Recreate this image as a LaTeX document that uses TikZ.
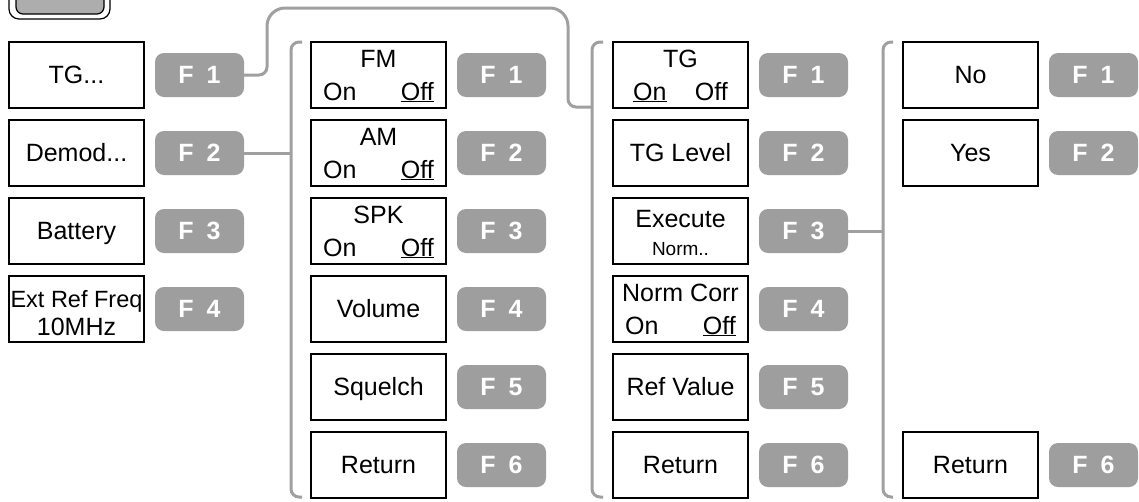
\documentclass[tikz,border=0pt]{standalone}
\usepackage{fontspec}
\setmainfont{Liberation Sans}
\definecolor{keygray}{HTML}{9E9E9E}
\definecolor{linegray}{HTML}{A0A0A0}
\tikzset{
 mbox/.style={draw=black, line width=1.2pt, minimum width=135pt, minimum height=66pt, anchor=north west, inner sep=0pt, outer sep=0pt},
 fkey/.style={fill=keygray, rounded corners=9pt, minimum width=89pt, minimum height=44pt, inner sep=0pt, text=white, font=\fontsize{25}{30}\selectfont\bfseries},
 txt/.style={inner sep=0pt, font=\fontsize{25}{30}\selectfont},
 smalltxt/.style={inner sep=0pt, font=\fontsize{19}{22}\selectfont},
 conn/.style={draw=linegray, line width=3pt},
}
\newcommand\menuitem[4]{%
  \node[mbox] (#1) at (#2,#3) {};
  \node[fkey] (#1f) at (#2+190.5,#3+33) {F\hspace{13pt}#4};
}
\newcommand\oneline[3]{%
  \node[txt, anchor=base] (#1) at ([yshift=-41.5pt]#2.north) {#3};
}
\newcommand\onoff[6]{% name, box, title, inset, On, Off
  \node[txt, anchor=base] (#1a) at ([yshift=-25pt]#2.north) {#3};
  \node[txt, anchor=base west] (#1b) at ([xshift=#4pt,yshift=-58pt]#2.north west) {#5};
  \node[txt, anchor=base east] (#1c) at ([xshift=-#4pt,yshift=-58pt]#2.north east) {#6};
}
\begin{document}
\begin{tikzpicture}[x=1pt,y=-1pt]
\useasboundingbox (0,0) rectangle (1139,501);
\clip (0,0) rectangle (1139,501);
% top-left hard key
\draw[line width=1.2pt, rounded corners=10pt] (9,-20) rectangle (110,19);
\draw[line width=1.2pt, fill=keygray!85, rounded corners=7pt] (16,-20) rectangle (104,14);

% column 1
\menuitem{a1}{9}{42}{1}
\menuitem{a2}{9}{120}{2}
\menuitem{a3}{9}{198}{3}
\menuitem{a4}{9}{276}{4}
\oneline{ta1}{a1}{TG...}
\oneline{ta2}{a2}{Demod...}
\oneline{ta3}{a3}{Battery}
\node[txt, font=\fontsize{23.5}{28}\selectfont, anchor=base] (ta4a) at ([yshift=-31pt]a4.north) {Ext Ref Freq};
\node[txt, anchor=base] (ta4b) at ([yshift=-59pt]a4.north) {10MHz};

% column 2
\menuitem{b1}{311}{42}{1}
\menuitem{b2}{311}{120}{2}
\menuitem{b3}{311}{198}{3}
\menuitem{b4}{311}{276}{4}
\menuitem{b5}{311}{354}{5}
\menuitem{b6}{311}{432}{6}
\onoff{tb1}{b1}{FM}{12}{On}{\underline{Off}}
\onoff{tb2}{b2}{AM}{12}{On}{\underline{Off}}
\onoff{tb3}{b3}{SPK}{12}{On}{\underline{Off}}
\oneline{tb4}{b4}{Volume}
\oneline{tb5}{b5}{Squelch}
\oneline{tb6}{b6}{Return}

% column 3
\menuitem{c1}{613}{42}{1}
\menuitem{c2}{613}{120}{2}
\menuitem{c3}{613}{198}{3}
\menuitem{c4}{613}{276}{4}
\menuitem{c5}{613}{354}{5}
\menuitem{c6}{613}{432}{6}
\onoff{tc1}{c1}{TG}{20}{\underline{On}}{Off}
\oneline{tc2}{c2}{TG Level}
\node[txt, anchor=base] (tc3a) at ([yshift=-29pt]c3.north) {Execute};
\node[smalltxt, anchor=base] (tc3b) at ([yshift=-57pt]c3.north) {Norm..};
\onoff{tc4}{c4}{Norm Corr}{12}{On}{\underline{Off}}
\oneline{tc5}{c5}{Ref Value}
\oneline{tc6}{c6}{Return}

% column 4
\menuitem{d1}{903}{42}{1}
\menuitem{d2}{903}{120}{2}
\menuitem{d6}{903}{432}{6}
\oneline{td1}{d1}{No}
\oneline{td2}{d2}{Yes}
\oneline{td6}{d6}{Return}

% brackets
\coordinate (k2t) at (302,42); \coordinate (k2b) at (302,497); \coordinate (k2) at (291,153);
\coordinate (k3t) at (603,42); \coordinate (k3b) at (603,497); \coordinate (k3) at (592,107);
\coordinate (k4t) at (893,42); \coordinate (k4b) at (893,497); \coordinate (k4) at (883,231);
\draw[conn, rounded corners=8pt] (k2t) -- (k2t -| k2) -- (k2b -| k2) -- (k2b);
\draw[conn, rounded corners=8pt] (k3t) -- (k3t -| k3) -- (k3b -| k3) -- (k3b);
\draw[conn, rounded corners=8pt] (k4t) -- (k4t -| k4) -- (k4b -| k4) -- (k4b);

% connectors
\draw[conn] (a2f.east) -- (a2f.east -| k2);
\draw[conn] (c3f.east) -- (c3f.east -| k4);
\draw[conn] (a1f.east) [rounded corners=8pt] -- (267,75) [rounded corners=18pt] -- (267,8) -- (568,8) [rounded corners=8pt] -- (568,107) -- (k3);
\end{tikzpicture}
\end{document}
